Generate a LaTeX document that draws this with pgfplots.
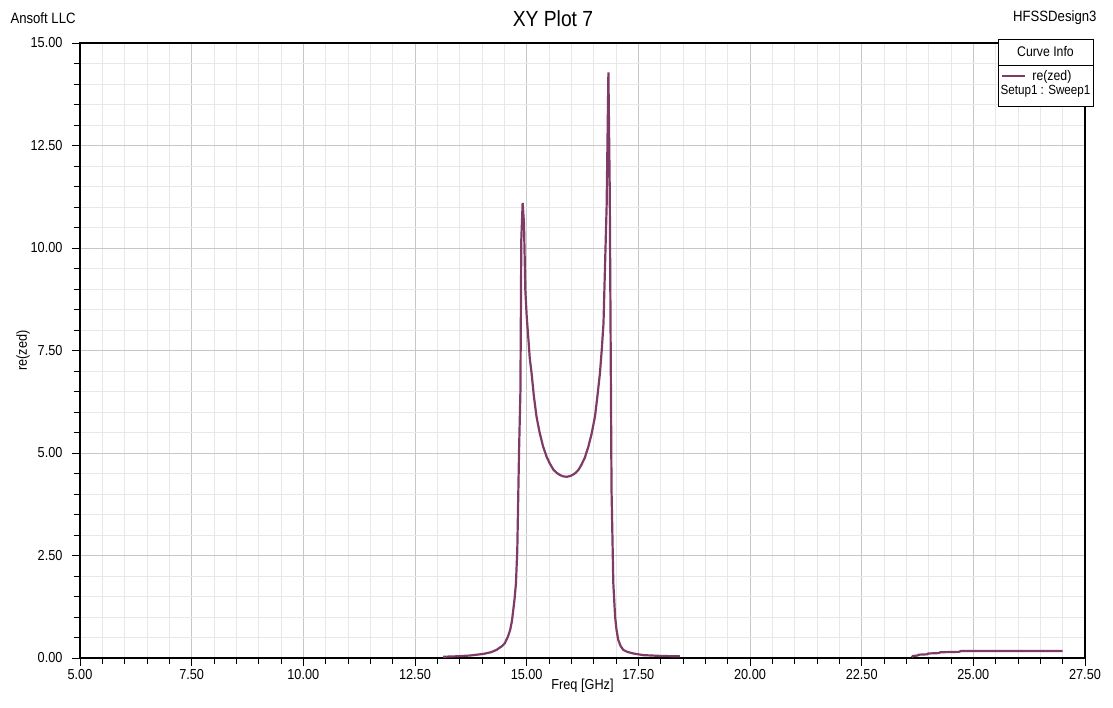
\documentclass[border=0pt]{standalone}
\usepackage{fontspec}
\setmainfont{Liberation Sans}[FakeStretch=0.88]
\usepackage{pgfplots}
\pgfplotsset{compat=1.18}
\definecolor{curve}{RGB}{126,59,102}
\begin{document}
\begin{tikzpicture}[x=1bp,y=1bp]
\useasboundingbox (-80,-50) rectangle (1033,658);
\begin{axis}[
  at={(0,0)}, anchor=south west,
  scale only axis, width=1005bp, height=615bp,
  xmin=5, xmax=27.5, ymin=0, ymax=15,
  xtick={5,7.5,10,12.5,15,17.5,20,22.5,25,27.5},
  ytick={0,2.5,5,7.5,10,12.5,15},
  minor tick num=4,
  grid=both,
  major grid style={color=black!22, line width=0.8bp},
  minor grid style={color=black!9, line width=0.8bp},
  tick pos=left, tick align=outside,
  major tick length=8bp, minor tick length=6bp,
  tick style={black, line width=0.9bp},
  axis line style={black, line width=1.3bp},
  clip=false,
  /pgf/number format/assume math mode=true,
  /pgf/number format/.cd, fixed, fixed zerofill, precision=2, /pgfplots/.cd,
  ticklabel style={font=\fontsize{14.5}{16}\selectfont},
  yticklabel style={xshift=-6bp},
  xlabel={Freq [GHz]},
  ylabel={re(zed)},
  xlabel style={font=\fontsize{14.5}{16}\selectfont, yshift=8bp},
  ylabel style={font=\fontsize{14.5}{16}\selectfont, yshift=-6bp},
  legend style={at={(rel axis cs:0.9165,0.9463)}, anchor=west, draw=none, fill=none, inner sep=0pt,
    font=\fontsize{14}{16}\selectfont, cells={anchor=west}},
  legend image code/.code={\draw[#1] (0bp,0bp) -- (23bp,0bp); \path (27bp,0bp);},
]
\addplot[curve, line width=2.2bp, unbounded coords=jump, forget plot] coordinates {
(13.13,0.03) (13.40,0.04) (13.73,0.06) (14.03,0.10) (14.20,0.14) (14.33,0.20)
(14.38,0.24) (14.45,0.29) (14.51,0.36) (14.55,0.45) (14.58,0.52) (14.63,0.68)
(14.67,0.90) (14.70,1.17) (14.73,1.45) (14.76,1.82)
(14.79,2.63) (14.81,3.85) (14.83,5.07) (14.86,6.5) (14.88,10.2) (14.91,11.1)
(14.94,10.6) (14.97,8.98) (15.00,8.35) (15.04,7.76) (15.07,7.30) (15.11,6.95)
(15.16,6.40) (15.22,5.89) (15.29,5.50) (15.37,5.15) (15.45,4.90) (15.52,4.74)
(15.60,4.59) (15.68,4.51) (15.75,4.46) (15.82,4.43) (15.90,4.42) (15.98,4.44)
(16.05,4.48) (16.10,4.52) (16.16,4.59) (16.22,4.70) (16.30,4.88) (16.38,5.15)
(16.45,5.45) (16.53,5.89) (16.58,6.35) (16.64,6.94) (16.68,7.50) (16.72,8.16)
(16.75,9.38) (16.79,11.0) (16.83,14.28)
(16.86,11.4) (16.90,4.1) (16.94,1.82) (16.98,1.01) (17.01,0.70) (17.05,0.44)
(17.10,0.30) (17.16,0.20) (17.25,0.15)
(17.39,0.11) (17.61,0.07) (18.00,0.05) (18.43,0.04)
(20.00,nan)
(23.62,0.02) (23.65,0.05) (23.75,0.06) (23.77,0.08) (23.97,0.09) (23.99,0.11)
(24.23,0.12) (24.26,0.14) (24.68,0.15) (24.72,0.17) (27.00,0.17)
};
\draw[black, line width=0.9bp, fill=white] (rel axis cs:0.9134,0.8976) rectangle (rel axis cs:1.008,1.0065);
\draw[black, line width=0.9bp] (rel axis cs:0.9134,0.9642) -- (rel axis cs:1.008,0.9642);
\node[font=\fontsize{14}{15}\selectfont] at (rel axis cs:0.9607,0.9854) {Curve Info};
\node[font=\fontsize{13.3}{15}\selectfont] at (rel axis cs:0.9607,0.922) {Setup1 : Sweep1};
\addlegendimage{curve, line width=2.2bp}
\addlegendentry{re(zed)}
\end{axis}
\node[anchor=west, font=\fontsize{15}{17}\selectfont] at (-73,640) {Ansoft LLC};
\node[anchor=east, font=\fontsize{15}{17}\selectfont] at (1020,640) {HFSSDesign3};
\node[font=\fontsize{22}{24}\selectfont] at (473,639) {XY Plot 7};
\end{tikzpicture}
\end{document}
